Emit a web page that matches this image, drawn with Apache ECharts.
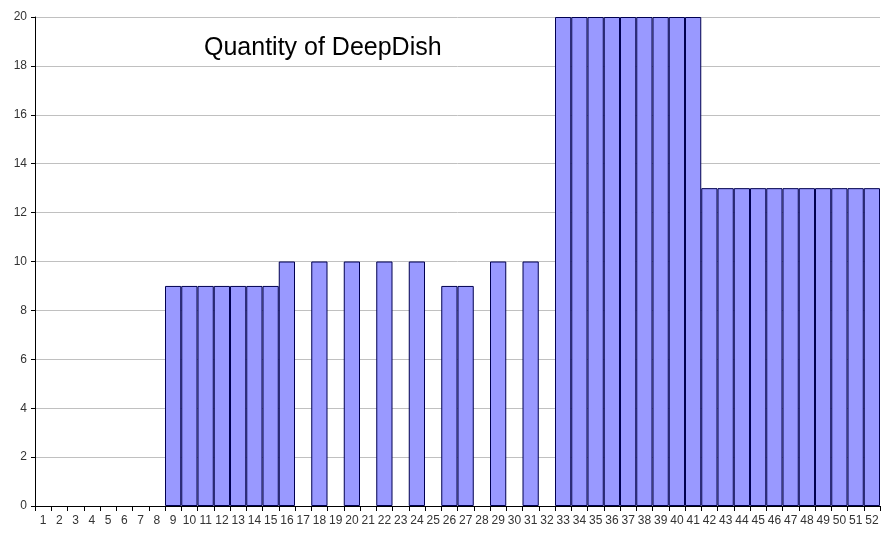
<!DOCTYPE html>
<html>
<head>
<meta charset="utf-8">
<script src="https://cdn.jsdelivr.net/npm/echarts@6/dist/echarts.min.js"></script>
<style>
  html, body { margin: 0; padding: 0; background: #fff; }
  #chart { width: 883px; height: 536px; }
</style>
</head>
<body>
<div id="chart"></div>
<script>
// Weekly quantities of DeepDish, weeks 1..52
const weeks = [];
for (let w = 1; w <= 52; w++) weeks.push(String(w));

const quantity = [
  0, 0, 0, 0, 0, 0, 0, 0,          // 1-8
  9, 9, 9, 9, 9, 9, 9,             // 9-15
  10, 0, 10, 0, 10, 0, 10, 0, 10, 0, // 16-25
  9, 9, 0, 10, 0, 10, 0,           // 26-32
  20, 20, 20, 20, 20, 20, 20, 20, 20, // 33-41
  13, 13, 13, 13, 13, 13, 13, 13, 13, 13, 13 // 42-52
];

const yTicks = [0, 2, 4, 6, 8, 10, 12, 14, 16, 18, 20];

// Zero-height weeks get no outline so nothing is drawn along the baseline
const barData = quantity.map(v => v === 0
  ? { value: v, itemStyle: { borderWidth: 0 } }
  : v);

const chart = echarts.init(document.getElementById('chart'));
chart.setOption({
  animation: false,
  backgroundColor: '#ffffff',
  title: {
    text: 'Quantity of DeepDish',
    left: 199,
    top: 31,
    textStyle: { fontFamily: 'Liberation Sans, Arial', fontSize: 25, fontWeight: 'normal', color: '#000' }
  },
  grid: { left: 35, right: 3, top: 17, bottom: 30 },
  xAxis: {
    type: 'category',
    data: weeks,
    boundaryGap: true,
    axisLine: { lineStyle: { color: '#000', width: 1 } },
    axisTick: { show: true, interval: 0, length: 5, lineStyle: { color: '#000' } },
    axisLabel: { interval: 0, fontFamily: 'Liberation Sans, Arial', fontSize: 12, color: '#333', margin: 9 }
  },
  yAxis: {
    type: 'value',
    min: yTicks[0],
    max: yTicks[yTicks.length - 1],
    interval: 2,
    axisLine: { show: true, lineStyle: { color: '#000', width: 1 } },
    axisTick: { show: true, length: 4, lineStyle: { color: '#000' } },
    axisLabel: { fontFamily: 'Liberation Sans, Arial', fontSize: 12, color: '#333', margin: 8 },
    splitLine: { show: true, lineStyle: { color: '#c0c0c0', width: 1 } }
  },
  series: [{
    type: 'bar',
    data: barData,
    barCategoryGap: '0%',
    itemStyle: { color: '#9999ff', borderColor: '#000050', borderWidth: 1 }
  }]
});
</script>
</body>
</html>
